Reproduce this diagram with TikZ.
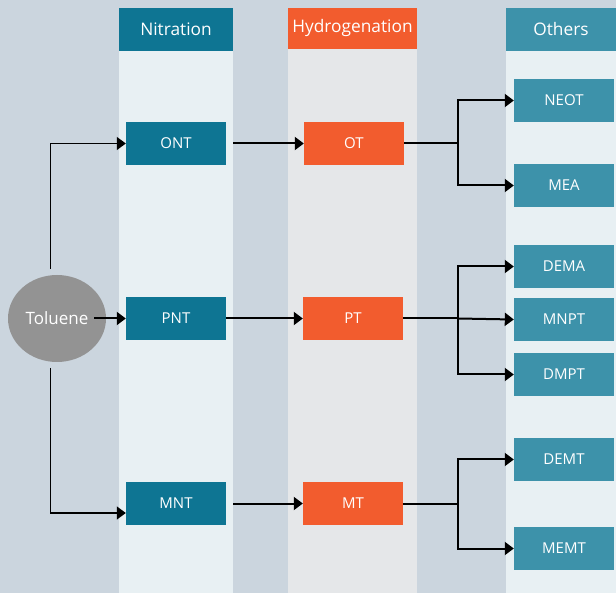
\documentclass[tikz,border=0pt]{standalone}
\usepackage{fontspec}
\setmainfont{Open Sans}
\usetikzlibrary{arrows.meta,shapes.geometric}

\definecolor{pagebg}{HTML}{CBD5DE}
\definecolor{lanebg}{HTML}{E8F0F3}
\definecolor{hydbg}{HTML}{E5E7E9}
\definecolor{nitcol}{HTML}{0E7593}
\definecolor{hydcol}{HTML}{F25C2E}
\definecolor{othcol}{HTML}{3D92AA}
\definecolor{tolcol}{HTML}{939393}

\begin{document}
\begin{tikzpicture}[x=1pt,y=-1pt,
    head/.style={minimum height=43pt,inner sep=0pt,text=white,font=\fontsize{17.3}{19}\selectfont},
    box/.style={minimum width=100pt,minimum height=43pt,inner sep=0pt,text=white,font=\fontsize{15}{17}\selectfont},
    arr/.style={line width=2pt,-{Triangle[length=9pt,width=13pt]}},
    feed/.style={line width=1.5pt,-{Triangle[length=9pt,width=13pt]}}]
    \useasboundingbox (0,0) rectangle (616,593);
    % lanes
    \fill[pagebg] (0,0) rectangle (616,593);
    \fill[lanebg] (119,51) rectangle (233,593);
    \fill[hydbg] (288,49) rectangle (417,593);
    \fill[lanebg] (506,51) rectangle (616,593);
    \node[head,fill=nitcol,minimum width=114pt] (hNit) at (176,29.5) {Nitration};
    \node[head,fill=hydcol,minimum width=129pt,minimum height=41pt] (hHyd) at (352.5,28.5) {Hydrogenation};
    \node[head,fill=othcol,minimum width=110pt] (hOth) at (561,29.5) {Others};
    % toluene
    \node[ellipse,fill=tolcol,minimum width=98pt,minimum height=87pt,inner sep=0pt,text=white,font=\fontsize{17}{19}\selectfont] (tol) at (57,318.5) {Toluene};
    % boxes
    \node[box,fill=nitcol] (ONT) at (176,143.5) {ONT};
    \node[box,fill=nitcol] (PNT) at (176,318.5) {PNT};
    \node[box,fill=nitcol] (MNT) at (176,503.5) {MNT};
    \node[box,fill=hydcol] (OT) at (354,143.5) {OT};
    \node[box,fill=hydcol] (PT) at (353,318.5) {PT};
    \node[box,fill=hydcol] (MT) at (353,503.5) {MT};
    \node[box,fill=othcol] (NEOT) at (564,100.5) {NEOT};
    \node[box,fill=othcol] (MEA) at (564,185.5) {MEA};
    \node[box,fill=othcol] (DEMA) at (564,266.5) {DEMA};
    \node[box,fill=othcol] (MNPT) at (564,319.5) {MNPT};
    \node[box,fill=othcol] (DMPT) at (564,374.5) {DMPT};
    \node[box,fill=othcol] (DEMT) at (564,459.5) {DEMT};
    \node[box,fill=othcol] (MEMT) at (564,548.5) {MEMT};
    % toluene feeds
    \coordinate (tolUp) at (50,269);
    \coordinate (tolDn) at (50,368);
    \draw[line width=1pt] (tolUp) -- (50,143.5);
    \draw[feed] (50,143.5) -- (ONT.west);
    \draw[line width=1pt] (tolDn) -- (50,513);
    \draw[feed] (50,513) -- ([yshift=-9.5pt]MNT.west);
    \draw[arr] ([xshift=-12pt]tol.east) -- (PNT.west);
    % nitration to hydrogenation
    \draw[arr] ([xshift=7pt]ONT.east) -- (OT.west);
    \draw[arr] (PNT.east) -- (PT.west);
    \draw[arr] ([xshift=7pt]MNT.east) -- (MT.west);
    % branches
    \coordinate (brO) at (458,143.5);
    \coordinate (brP) at (458,318.5);
    \coordinate (brM) at (458,503.5);
    \draw[line width=2pt] (OT.east) -- (brO);
    \draw[line width=2pt] (PT.east) -- (brP);
    \draw[line width=2pt] (MT.east) -- (brM);
    \draw[arr] (brO) |- (NEOT.west);
    \draw[arr] (brO) |- (MEA.west);
    \draw[arr] (brP) |- (DEMA.west);
    \draw[arr] (brP) -- (MNPT.west);
    \draw[arr] (brP) |- (DMPT.west);
    \draw[arr] (brM) |- (DEMT.west);
    \draw[arr] (brM) |- (MEMT.west);
\end{tikzpicture}
\end{document}
